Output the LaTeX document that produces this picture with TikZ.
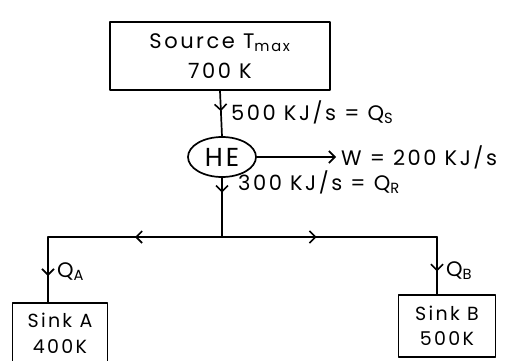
\documentclass[tikz,border=0pt]{standalone}
\usepackage{fontspec}
\setmainfont[LetterSpace=12]{Poppins}
\usetikzlibrary{shapes.geometric,arrows.meta,decorations.markings}
\tikzset{
  barb/.tip={Straight Barb[length=6pt,width=12pt,line width=1.6pt]},
  flowtip/.style={postaction={decorate},decoration={markings,
      mark=at position #1 with {\arrow{barb}}}},
  tank/.style={draw,align=center,inner sep=2pt}
}
\begin{document}
\begin{tikzpicture}[x=1pt,y=-1pt,line width=1.7pt,line cap=round,line join=round,
    font=\fontsize{21}{30}\selectfont]
  \clip (0,0) rectangle (519,361);
  \node[tank,minimum width=220pt,minimum height=68pt] (src) at (220,56) {Source T\textsubscript{max}\\700 K};
  \node[draw,ellipse,minimum width=68pt,minimum height=40pt,inner sep=0pt,
    font=\fontsize{26}{30}\selectfont] (he) at (222,157) {HE};
  \node[tank,anchor=north,minimum width=95pt,minimum height=61pt,font=\fontsize{19}{26}\selectfont] (sinkA) at (60,302) {Sink A\\400K};
  \node[tank,minimum width=97pt,minimum height=62pt,font=\fontsize{19}{25}\selectfont] (sinkB) at (447,326) {Sink B\\500K};
  \coordinate (split) at (222,237);
  \coordinate (lcorner) at (48,237);
  \coordinate (rcorner) at (437,237);
  \coordinate (wend) at (336,157);
  % flows
  \draw[flowtip=0.45] (src.south) -- (he.north);
  \draw[-barb] (he.east) -- (wend);
  \draw[flowtip=0.25] (he.south) -- (split);
  \draw[flowtip=0.5] (split) -- (lcorner);
  \draw[flowtip=0.6] (lcorner) -- (lcorner |- sinkA.north);
  \draw[flowtip=0.44] (split) -- (rcorner);
  \draw[flowtip=0.6] (rcorner) -- (rcorner |- sinkB.north);
  % labels
  \node[right=1pt] (qs) at (226,112) {500 KJ/s = Q\textsubscript{S}};
  \node[right=1pt] (wout) at (wend) {W = 200 KJ/s};
  \node[right=1pt] (qr) at (233,182) {300 KJ/s = Q\textsubscript{R}};
  \node[right=1pt] (qa) at (52,272) {Q\textsubscript{A}};
  \node[right=1pt] (qb) at (441,271) {Q\textsubscript{B}};
\end{tikzpicture}
\end{document}
